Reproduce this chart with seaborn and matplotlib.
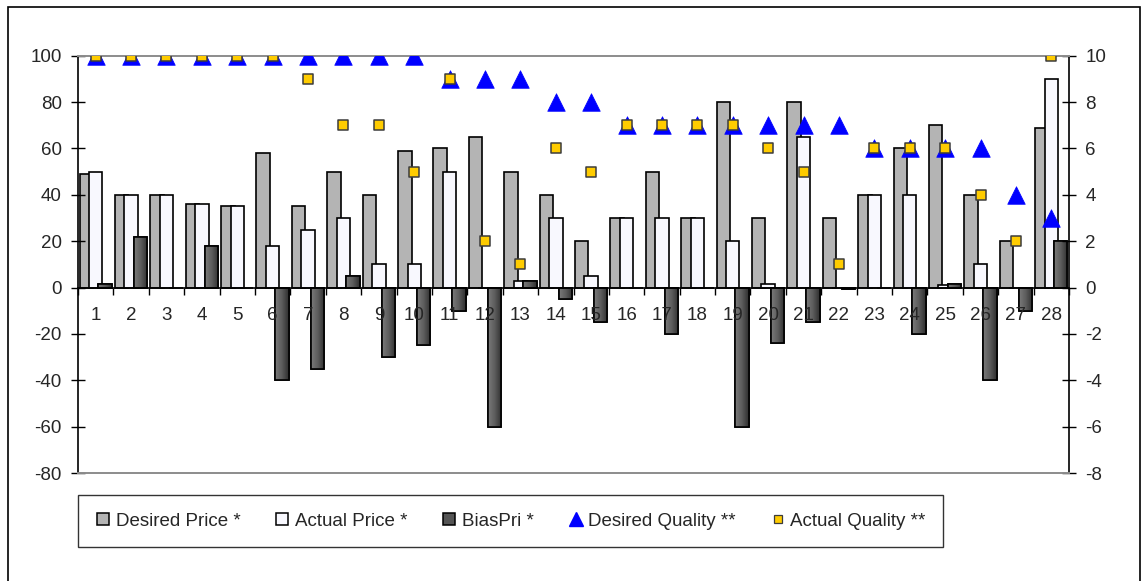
import numpy as np
import pandas as pd
import matplotlib
matplotlib.use("Agg")
import matplotlib.pyplot as plt
from matplotlib.lines import Line2D
from matplotlib.patches import Rectangle
from matplotlib.colors import LinearSegmentedColormap
from matplotlib.ticker import FixedLocator, NullFormatter
import seaborn as sns

# ---- data -------------------------------------------------------------
categories = [str(i) for i in range(1, 29)]

desired_price = [49, 40, 40, 36, 35, 58, 35, 50, 40, 59, 60, 65, 50, 40,
                 20, 30, 50, 30, 80, 30, 80, 30, 40, 60, 70, 40, 20, 69]
actual_price = [50, 40, 40, 36, 35, 18, 25, 30, 10, 10, 50, 0, 3, 30,
                5, 30, 30, 30, 20, 1.5, 65, 0, 40, 40, 1, 10, 0, 90]
bias_pri = [1.5, 22, 0, 18, 0, -40, -35, 5, -30, -25, -10, -60, 3, -5,
            -15, 0, -20, 0, -60, -24, -15, -0.7, 0, -20, 1.5, -40, -10, 20]

desired_quality = [10, 10, 10, 10, 10, 10, 10, 10, 10, 10, 9, 9, 9, 8,
                   8, 7, 7, 7, 7, 7, 7, 7, 6, 6, 6, 6, 4, 3]
actual_quality = [10, 10, 10, 10, 10, 10, 9, 7, 7, 5, 9, 2, 1, 6,
                  5, 7, 7, 7, 7, 6, 5, 1, 6, 6, 6, 4, 2, 10]

price_series = ["Desired Price *", "Actual Price *", "BiasPri *"]
quality_series = ["Desired Quality **", "Actual Quality **"]

left_ticks = list(range(-80, 101, 20))
right_ticks = list(range(-8, 11, 2))

# ---- styling ----------------------------------------------------------
sns.set_style("white")
plt.rcParams["font.family"] = ["Liberation Sans", "DejaVu Sans"]
FS = 13.5

c_desired = "#b4b4b4"
c_actual = "#f8f8fe"
c_bias = "#555555"
c_tri = "#0000ff"
c_sq = "#ffcc00"
grey_line = "#8c8c8c"
bias_shade = LinearSegmentedColormap.from_list(
    "bias_shade", ["#7a7a7a", "#5c5c5c", "#2e2e2e"])

W, H = 1141, 581
fig = plt.figure(figsize=(W / 100, H / 100), dpi=100)
fig.patch.set_facecolor("white")
ax = fig.add_axes([78 / W, 1 - 473 / H, (1069 - 78) / W, (473 - 55.7) / H])

price_df = pd.DataFrame({
    "cat": categories * 3,
    "series": np.repeat(price_series, len(categories)),
    "value": desired_price + actual_price + bias_pri,
})

sns.barplot(data=price_df, x="cat", y="value", hue="series",
            hue_order=price_series, order=categories,
            palette=[c_desired, c_actual, c_bias],
            dodge=True, width=0.8, errorbar=None, saturation=1,
            edgecolor="black", linewidth=1.2, legend=False, ax=ax)

# overlapping bars: widen every bar around its own centre
bar_w = 0.38
for cont in ax.containers:
    for p in cont.patches:
        cx = p.get_x() + p.get_width() / 2
        p.set_width(bar_w)
        p.set_x(cx - bar_w / 2)

ax.set_xlim(-0.5, len(categories) - 0.5)
ax.set_ylim(-80, 100)

# shaded fill for the bias bars
grad = np.linspace(0, 1, 64).reshape(1, -1)
for p in ax.containers[2].patches:
    x0, y0 = p.get_x(), p.get_y()
    w, h = p.get_width(), p.get_height()
    if abs(h) < 1e-9:
        continue
    im = ax.imshow(grad, cmap=bias_shade, aspect="auto",
                   extent=(x0, x0 + w, min(y0, y0 + h), max(y0, y0 + h)),
                   zorder=p.get_zorder() + 0.01, interpolation="bilinear")
    im.set_clip_path(p)
    edge = Rectangle((x0, y0), w, h, fill=False, edgecolor="black",
                     linewidth=1.2, zorder=p.get_zorder() + 0.02)
    ax.add_patch(edge)

ax.set_xlim(-0.5, len(categories) - 0.5)
ax.set_ylim(-80, 100)
ax.set_xlabel("")
ax.set_ylabel("")
ax.set_axisbelow(False)

# category axis sits at zero, ticks between categories, labels under the line
ax.spines["bottom"].set_position(("data", 0))
ax.spines["bottom"].set_color("black")
ax.spines["bottom"].set_linewidth(1.2)
ax.spines["top"].set_visible(False)
ax.spines["right"].set_visible(False)
ax.spines["left"].set_color("black")
ax.spines["left"].set_linewidth(1.2)

ax.xaxis.set_major_locator(FixedLocator(np.arange(len(categories) + 1) - 0.5))
ax.xaxis.set_major_formatter(NullFormatter())
ax.xaxis.set_minor_locator(FixedLocator(np.arange(len(categories))))
ax.set_xticklabels(categories, minor=True)
ax.tick_params(axis="x", which="major", direction="out", length=5,
               width=1, color="black", bottom=True)
ax.tick_params(axis="x", which="minor", length=0, pad=14,
               labelsize=FS, bottom=True)

ax.set_yticks(left_ticks)
ax.set_yticklabels([str(t) for t in left_ticks])
ax.tick_params(axis="y", direction="inout", length=9.4, width=1,
               color="black", pad=7, labelsize=FS, left=True)

# secondary axis for the quality markers
ax2 = ax.twinx()
ax2.set_ylim(-8, 10)
ax2.set_yticks(right_ticks)
ax2.set_yticklabels([str(t) for t in right_ticks])
ax2.tick_params(axis="y", direction="inout", length=9.4, width=1,
                color="black", pad=7, labelsize=FS, right=True)
ax2.spines["left"].set_visible(False)
ax2.spines["right"].set_color("black")
ax2.spines["right"].set_linewidth(1.2)
ax2.spines["top"].set_color(grey_line)
ax2.spines["top"].set_linewidth(1.4)
ax2.spines["bottom"].set_color(grey_line)
ax2.spines["bottom"].set_linewidth(1.4)

xpos = np.arange(len(categories))
sns.scatterplot(x=xpos, y=desired_quality, marker="^", s=160,
                color=c_tri, edgecolor=c_tri, linewidth=0.5,
                legend=False, ax=ax2, zorder=3)
sns.scatterplot(x=xpos, y=actual_quality, marker="s", s=46,
                color=c_sq, edgecolor="#3c3c3c", linewidth=1.1,
                legend=False, ax=ax2, zorder=4)
ax2.set_xlim(-0.5, len(categories) - 0.5)

# legend along the bottom
handles = [
    Line2D([], [], linestyle="none", marker="s", markersize=8,
           markerfacecolor=c_desired, markeredgecolor="black", markeredgewidth=1.1),
    Line2D([], [], linestyle="none", marker="s", markersize=8,
           markerfacecolor=c_actual, markeredgecolor="black", markeredgewidth=1.1),
    Line2D([], [], linestyle="none", marker="s", markersize=8,
           markerfacecolor=c_bias, markeredgecolor="black", markeredgewidth=1.1),
    Line2D([], [], linestyle="none", marker="^", markersize=10,
           markerfacecolor=c_tri, markeredgecolor=c_tri),
    Line2D([], [], linestyle="none", marker="s", markersize=6,
           markerfacecolor=c_sq, markeredgecolor="#3c3c3c", markeredgewidth=0.9),
]
leg = fig.legend(handles, price_series + quality_series, ncol=5,
                 loc="center", mode="expand",
                 bbox_to_anchor=(78 / W, 1 - 547 / H, (943 - 78) / W, 52 / H),
                 frameon=True, fancybox=False, fontsize=FS,
                 handlelength=0.8, handletextpad=0.25, borderpad=0.95,
                 borderaxespad=0)
leg.get_frame().set_edgecolor("black")
leg.get_frame().set_linewidth(1.0)

# outer chart border
fig.patches.append(Rectangle((8 / W, -0.02), (1140 - 8) / W, 1 - 7 / H + 0.02,
                             transform=fig.transFigure, fill=False,
                             edgecolor="black", linewidth=1.2))

fig.savefig("out.png", dpi=100)
